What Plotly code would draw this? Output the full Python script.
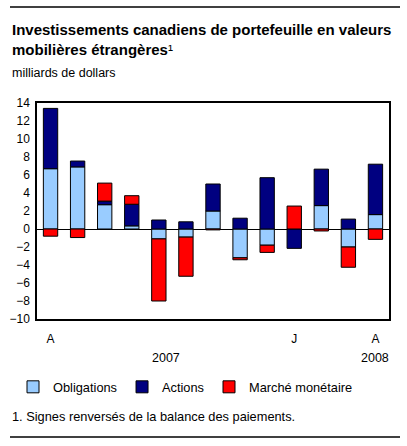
import plotly.graph_objects as go

months = ["A", "M", "J", "J", "A", "S", "O", "N", "D", "J", "F", "M", "A"]
obligations = [6.7, 6.9, 2.7, 0.35, -1.1, -0.9, 2.0, -3.2, -1.8, 0.0, 2.6, -2.0, 1.6]
actions = [6.7, 0.65, 0.4, 2.4, 1.0, 0.8, 3.0, 1.2, 5.7, -2.15, 4.05, 1.1, 5.6]
marche = [-0.8, -0.95, 2.0, 0.95, -6.9, -4.35, -0.1, -0.22, -0.8, 2.55, -0.22, -2.25, -1.15]
tick_pos = [0, 9, 12]
tick_text = ["A", "J", "A"]
years = ["2007", "2008"]
year_pos = [4.25, 12]

x = list(range(len(months)))
FONT = "Liberation Sans, Arial, sans-serif"

fig = go.Figure()
fig.add_bar(x=x, y=obligations, name="Obligations", marker=dict(color="#99CCFF", line=dict(color="black", width=1)))
fig.add_bar(x=x, y=actions, name="Actions", marker=dict(color="#000080", line=dict(color="black", width=1)))
fig.add_bar(x=x, y=marche, name="Marché monétaire", marker=dict(color="#FF0000", line=dict(color="black", width=1)))

L, R, T, B = 37, 18, 103, 127
W, H = 407, 446
pw, ph = W - L - R, H - T - B

def px(xp):
    return (xp - L) / pw

def py(yp):
    return (H - B - yp) / ph

annotations = [
    dict(text="<b>Investissements canadiens de portefeuille en valeurs</b>", x=px(10), y=py(30)),
    dict(text="<b>mobilières étrangères</b>¹", x=px(10), y=py(50)),
]
annotations[0].update(font=dict(size=15, color="black", family=FONT))
annotations[1].update(font=dict(size=15, color="black", family=FONT))
annotations.append(dict(text="milliards de dollars", x=px(10), y=py(73), font=dict(size=12.5, color="black", family=FONT)))
annotations.append(dict(text="1. Signes renversés de la balance des paiements.", x=px(10), y=py(416), font=dict(size=12.8, color="black", family=FONT)))
for a in annotations:
    a.update(xref="paper", yref="paper", xanchor="left", yanchor="middle", showarrow=False)
for yr, xp in zip(years, year_pos):
    annotations.append(dict(text=yr, x=xp, xref="x", y=py(358), yref="paper", xanchor="center", yanchor="middle",
                            showarrow=False, font=dict(size=12.5, color="black", family=FONT)))

shapes = [
    dict(type="line", xref="paper", yref="paper", x0=px(10), x1=px(400), y0=py(7), y1=py(7), line=dict(color="black", width=1.5)),
    dict(type="line", xref="paper", yref="paper", x0=px(10), x1=px(400), y0=py(437), y1=py(437), line=dict(color="black", width=1.5)),
]

fig.update_layout(
    width=W, height=H,
    margin=dict(l=L, r=R, t=T, b=B, autoexpand=False),
    barmode="relative", bargap=0.47,
    plot_bgcolor="white", paper_bgcolor="white",
    font=dict(family=FONT, size=12, color="black"),
    showlegend=True,
    legend=dict(orientation="h", x=px(13), y=py(387), xanchor="left", yanchor="middle",
                font=dict(size=12.8, family=FONT), itemwidth=30,
                traceorder="normal", bgcolor="rgba(0,0,0,0)"),
    annotations=annotations,
    shapes=shapes,
)
fig.update_xaxes(range=[-0.5, 12.5], tickmode="array", tickvals=tick_pos, ticktext=tick_text,
                 showline=True, linecolor="black", linewidth=1.5, mirror=True, showgrid=False, zeroline=False,
                 ticks="outside", ticklen=8, tickcolor="rgba(0,0,0,0)", tickfont=dict(size=12))
fig.update_yaxes(range=[-10, 14], dtick=2, showline=True, linecolor="black", linewidth=1.5, mirror=True,
                 showgrid=False, zeroline=True, zerolinecolor="black", zerolinewidth=1.2,
                 ticks="outside", ticklen=3, tickcolor="rgba(0,0,0,0)", tickfont=dict(size=12))

fig.write_html("out.html", config={"displayModeBar": False},
               post_script="document.body.style.margin='0';document.body.style.padding='0';")
